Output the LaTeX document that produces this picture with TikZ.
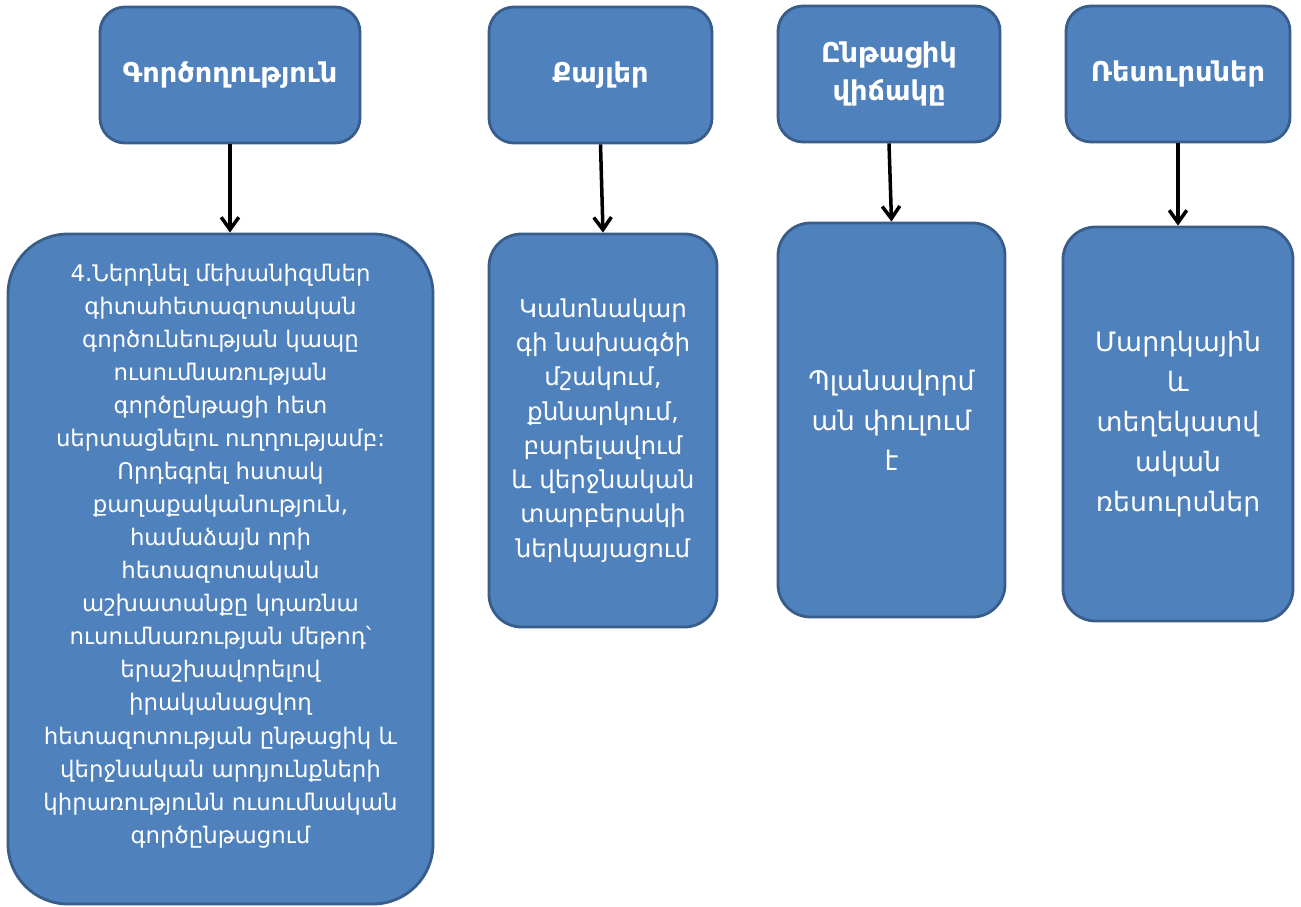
\documentclass[tikz,border=0pt]{standalone}
\usepackage{fontspec}
\setmainfont{DejaVu Sans}
\usetikzlibrary{arrows.meta}
\definecolor{boxfill}{RGB}{79,129,189}
\definecolor{boxline}{RGB}{56,93,138}

\begin{document}
\begin{tikzpicture}[
				headnode/.style={rectangle, rounded corners=0.5cm, draw=boxline, fill=boxfill, line width=1.6pt, text=white, font=\bfseries\fontsize{15.5}{21.6}\selectfont, align=center, inner sep=0pt, minimum height=2.72cm},
				stepnode/.style={rectangle, rounded corners=0.65cm, draw=boxline, fill=boxfill, line width=1.6pt, text=white, align=center, inner sep=0pt, minimum height=7.88cm},
				textnode/.style={text=white, align=center, inner sep=0pt, font=\fontsize{13}{18.8}\selectfont},
				arrow/.style={-{Straight Barb[length=7pt,width=10pt]}, line width=2pt},
				]
		\useasboundingbox (0,0) rectangle (26.02,-18.14);

				%Nodes
				\node[headnode, minimum width=5.2cm]	(act)	at (4.6,-1.5)	{Գործողություն};
				\node[headnode, minimum width=4.46cm]	(steps)	at (12.01,-1.5)	{Քայլեր};
				\node[headnode, minimum width=4.44cm]	(state)	at (17.78,-1.48)	{Ընթացիկ\\վիճակը};
				\node[headnode, minimum width=4.48cm]	(res)	at (23.56,-1.48)	{Ռեսուրսներ};

				\node[stepnode, rounded corners=1.2cm, minimum width=8.5cm, minimum height=13.4cm]	(b1)	at (4.41,-11.38)	{};
				\node[textnode]	(t1)	at ([yshift=2.6mm]b1.center)	{4.Ներդնել մեխանիզմներ\\գիտահետազոտական\\գործունեության կապը\\ուսումնառության\\գործընթացի հետ\\սերտացնելու ուղղությամբ:\\Որդեգրել հստակ\\քաղաքականություն,\\համաձայն որի\\հետազոտական\\աշխատանքը կդառնա\\ուսումնառության մեթոդ՝\\երաշխավորելով\\իրականացվող\\հետազոտության ընթացիկ և\\վերջնական արդյունքների\\կիրառությունն ուսումնական\\գործընթացում};
				\node[stepnode, minimum width=4.56cm, minimum height=7.86cm, font=\fontsize{14}{19.5}\selectfont]	(b2)	at (12.06,-8.61)	{Կանոնակար\\գի նախագծի\\մշակում,\\քննարկում,\\բարելավում\\և վերջնական\\տարբերակի\\ներկայացում};
				\node[stepnode, minimum width=4.54cm, font=\fontsize{15.3}{22.8}\selectfont]	(b3)	at (17.83,-8.4)	{Պլանավորմ\\ան փուլում\\է};
				\node[stepnode, minimum width=4.6cm, font=\fontsize{15.2}{22.8}\selectfont]	(b4)	at (23.56,-8.48)	{Մարդկային\\և\\տեղեկատվ\\ական\\ռեսուրսներ};

				%Lines
				\draw[arrow]	(act.south) -- (act.south |- b1.north);
				\draw[arrow]	(steps.south) -- (b2.north);
				\draw[arrow]	(state.south) -- (b3.north);
				\draw[arrow]	(res.south) -- (b4.north);
			\end{tikzpicture}
\end{document}
